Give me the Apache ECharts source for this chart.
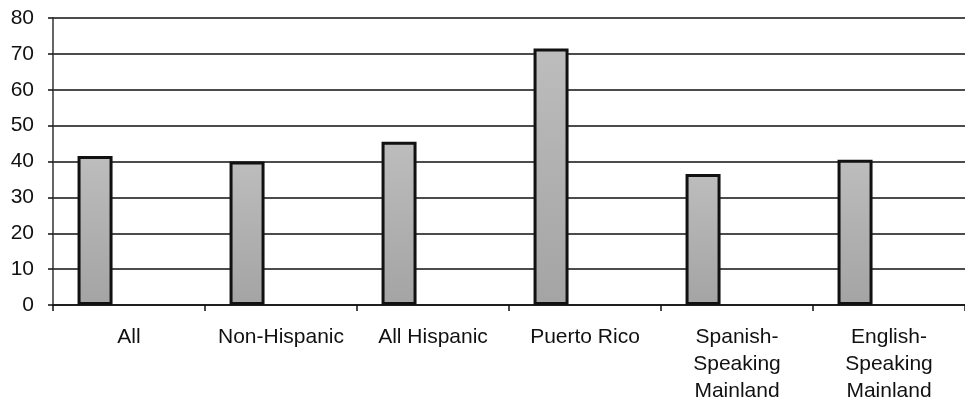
<!DOCTYPE html>
<html>
<head>
<meta charset="utf-8">
<script src="https://cdn.jsdelivr.net/npm/echarts@6/dist/echarts.min.js"></script>
<style>
  html, body { margin: 0; padding: 0; background: #ffffff; }
  #chart { width: 965px; height: 402px; }
</style>
</head>
<body>
<div id="chart"></div>
<script>
// Groups shown along the category axis
const categories = [
  'All',
  'Non-Hispanic',
  'All Hispanic',
  'Puerto Rico',
  'Spanish-\nSpeaking\nMainland',
  'English-\nSpeaking\nMainland'
];

// Percentage for each group
const values = [41.5, 40, 45.5, 71.5, 36.5, 40.5];

// Two unused slots that share each category with the data bar
const emptySlotA = ['-', '-', '-', '-', '-', '-'];
const emptySlotB = ['-', '-', '-', '-', '-', '-'];

// Value axis ticks
const yTicks = [0, 10, 20, 30, 40, 50, 60, 70, 80];

const chart = echarts.init(document.getElementById('chart'), null, { renderer: 'canvas' });

const barStyle = {
  color: new echarts.graphic.LinearGradient(0, 0, 0, 1, [
    { offset: 0, color: '#bdbdbd' },
    { offset: 0.5, color: '#b0b0b0' },
    { offset: 1, color: '#a4a4a4' }
  ]),
  borderColor: '#111111',
  borderWidth: 3
};

const slotWidth = 35;

chart.setOption({
  animation: false,
  backgroundColor: '#ffffff',
  grid: { left: 53, right: 0, top: 18, bottom: 97, containLabel: false, outerBoundsMode: 'none' },
  xAxis: {
    type: 'category',
    data: categories,
    boundaryGap: true,
    axisLine: { show: true, lineStyle: { color: '#111', width: 1.5 } },
    axisTick: { show: true, inside: false, length: 6, alignWithLabel: false, lineStyle: { color: '#111', width: 1.5 } },
    axisLabel: {
      interval: 0,
      color: '#111',
      fontFamily: 'Liberation Sans, Arial, sans-serif',
      fontSize: 21,
      lineHeight: 27,
      margin: 19
    },
    splitLine: { show: false }
  },
  yAxis: {
    type: 'value',
    min: yTicks[0],
    max: yTicks[yTicks.length - 1],
    interval: yTicks[1] - yTicks[0],
    axisLine: { show: true, lineStyle: { color: '#333', width: 1.5 } },
    axisTick: { show: true, inside: false, length: 5, lineStyle: { color: '#111', width: 1.5 } },
    axisLabel: {
      color: '#111',
      fontFamily: 'Liberation Sans, Arial, sans-serif',
      fontSize: 21,
      margin: 19
    },
    splitLine: { show: true, lineStyle: { color: '#111', width: 1.5 } }
  },
  series: [
    {
      type: 'bar',
      data: values,
      barWidth: slotWidth,
      barGap: '-3%',
      itemStyle: barStyle
    },
    { type: 'bar', data: emptySlotA, barWidth: slotWidth, barGap: '-3%' },
    { type: 'bar', data: emptySlotB, barWidth: slotWidth, barGap: '-3%' }
  ]
});
</script>
</body>
</html>
